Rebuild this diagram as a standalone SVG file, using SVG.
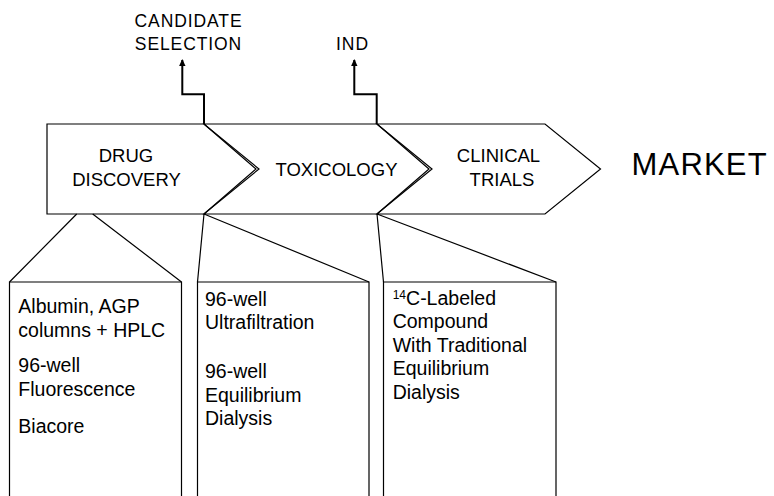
<svg xmlns="http://www.w3.org/2000/svg" width="774" height="496" viewBox="0 0 774 496">
<style>
text{font-family:"Liberation Sans",Arial,sans-serif;fill:#000}
.lab{font-size:18.5px;text-anchor:middle}
.top{font-size:17.5px;text-anchor:middle;letter-spacing:0.9px}
.box{font-size:19.5px}
.shape{fill:none;stroke:#000;stroke-width:1.2;stroke-linejoin:miter}
.conn{fill:none;stroke:#000;stroke-width:1.2}
.arrow{fill:none;stroke:#000;stroke-width:2}
</style>
<defs>
<marker id="ah" markerWidth="8" markerHeight="8" refX="6" refY="4" orient="auto" markerUnits="userSpaceOnUse">
<path d="M0,0.8 L7,4 L0,7.2 Z" fill="#000"/>
</marker>
</defs>
<rect width="774" height="496" fill="#fff"/>
<g id="drug-discovery">
<polygon class="shape" points="47,124 204,124 259,169 204,214 47,214"/>
<text class="lab" x="126" y="161.5">DRUG</text>
<text class="lab" x="126.5" y="185.5">DISCOVERY</text>
</g>
<g id="toxicology">
<polygon class="shape" points="204,124 377,124 432,169 377,214 204,214 256,169"/>
<text class="lab" x="336.5" y="176">TOXICOLOGY</text>
</g>
<g id="clinical-trials">
<polygon class="shape" points="377,124 545,124 600.5,169 545,214 377,214 429,169"/>
<text class="lab" x="498.5" y="161.5">CLINICAL</text>
<text class="lab" x="502" y="185.5">TRIALS</text>
</g>
<g id="market">
<text x="631.5" y="175" font-size="31" letter-spacing="1.2">MARKET</text>
</g>
<g id="candidate-selection">
<text class="top" x="188.5" y="27.3">CANDIDATE</text>
<text class="top" x="188.5" y="50">SELECTION</text>
</g>
<g id="ind">
<text class="top" x="352.5" y="50">IND</text>
</g>
<g id="box-drug">
<path class="shape" d="M9.5,497 V282 H181.5 V497"/>
<text class="box" x="18.3" y="313">Albumin, AGP</text>
<text class="box" x="18.3" y="336.7">columns + HPLC</text>
<text class="box" x="18.3" y="372.3">96-well</text>
<text class="box" x="18.3" y="396">Fluorescence</text>
<text class="box" x="18.3" y="432.7">Biacore</text>
</g>
<g id="box-tox">
<path class="shape" d="M197.5,497 V282 H369 V497"/>
<text class="box" x="205" y="305.7">96-well</text>
<text class="box" x="205" y="329">Ultrafiltration</text>
<text class="box" x="205" y="377.7">96-well</text>
<text class="box" x="205" y="401.5">Equilibrium</text>
<text class="box" x="205" y="425">Dialysis</text>
</g>
<g id="box-clinical">
<path class="shape" d="M383.5,497 V282 H556 V497"/>
<text class="box" x="392.7" y="305"><tspan font-size="12" dy="-6">14</tspan><tspan dy="6">C-Labeled</tspan></text>
<text class="box" x="392.7" y="328">Compound</text>
<text class="box" x="392.7" y="351.7">With Traditional</text>
<text class="box" x="392.7" y="375">Equilibrium</text>
<text class="box" x="392.7" y="398.5">Dialysis</text>
</g>
<g id="connectors">
<path class="arrow" d="M204,124 V94.3 H182.3 V60" marker-end="url(#ah)"/>
<path class="arrow" d="M376.7,124 V94.3 H354.3 V60" marker-end="url(#ah)"/>
<path class="conn" d="M76.7,214 L9.5,282 M92.7,214 L181.5,282"/>
<path class="conn" d="M204,214 L197.5,282 M204,214 L369,282"/>
<path class="conn" d="M377,214 L383.5,282 M377,214 L556,282"/>
</g>
</svg>
